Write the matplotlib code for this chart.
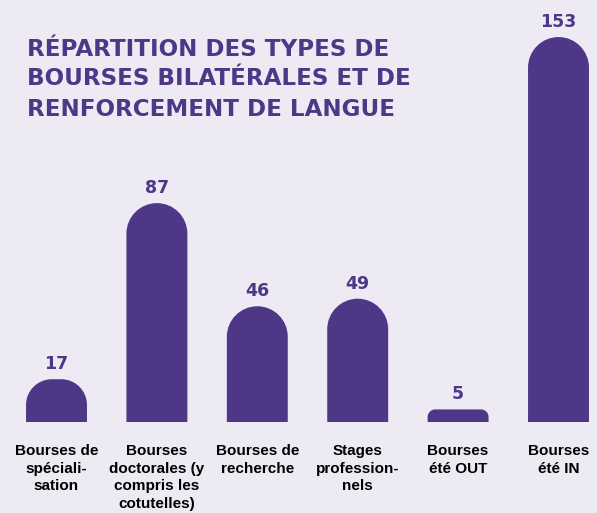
import numpy as np
import matplotlib
matplotlib.use("Agg")
import matplotlib.pyplot as plt
from matplotlib.path import Path
from matplotlib.patches import PathPatch

# data
categories = ["Bourses de\nspéciali-\nsation",
              "Bourses\ndoctorales (y\ncompris les\ncotutelles)",
              "Bourses de\nrecherche",
              "Stages\nprofession-\nnels",
              "Bourses\nété OUT",
              "Bourses\nété IN"]
values = [17, 87, 46, 49, 5, 153]
title_lines = ["RÉPARTITION DES TYPES DE",
               "BOURSES BILATÉRALES ET DE",
               "RENFORCEMENT DE LANGUE"]

bg = "#EDEAF4"
purple = "#4F3787"

W, H, DPI = 597, 513, 100
fig = plt.figure(figsize=(W / DPI, H / DPI), dpi=DPI, facecolor=bg)
ax = fig.add_axes([0, 0, 1, 1])
ax.set_facecolor(bg)
ax.axis("off")

# scales: 100.4 px between bars, 2.516 px per unit, baseline 91 px from bottom
px_x = 100.4
px_y = 2.516
x0_px = 56.5
ax.set_xlim(-x0_px / px_x, (W - x0_px) / px_x)
ax.set_ylim(-91 / px_y, (H - 91) / px_y)

bw = 0.607
k = 0.5523


def rounded_bar(xc, h):
    # rounded top, corner radius in pixels turned into data units
    r_px = min(bw * px_x / 2, 0.6 * h * px_y)
    rx, ry = r_px / px_x, r_px / px_y
    xl, xr = xc - bw / 2, xc + bw / 2
    verts = [(xl, 0), (xl, h - ry),
             (xl, h - ry + k * ry), (xl + rx - k * rx, h), (xl + rx, h),
             (xr - rx, h),
             (xr - rx + k * rx, h), (xr, h - ry + k * ry), (xr, h - ry),
             (xr, 0), (xl, 0)]
    codes = [Path.MOVETO, Path.LINETO,
             Path.CURVE4, Path.CURVE4, Path.CURVE4,
             Path.LINETO,
             Path.CURVE4, Path.CURVE4, Path.CURVE4,
             Path.LINETO, Path.CLOSEPOLY]
    return PathPatch(Path(verts, codes), facecolor=purple, edgecolor="none")


x = np.arange(len(values))
for xi, v, lab in zip(x, values, categories):
    ax.add_patch(rounded_bar(xi, v))
    ax.text(xi, v + 15 / px_y, str(v), ha="center", va="center",
            fontsize=12.5, fontweight="heavy", color=purple, family="DejaVu Sans")
    ax.text(xi, -22 / px_y, lab, ha="center", va="top", fontsize=11,
            fontweight="bold", color="black", family="Liberation Sans",
            linespacing=1.32)

for i, line in enumerate(title_lines):
    fig.text(27 / W, 1 - (49 + 30 * i) / H, line, ha="left", va="center",
             fontsize=16.6, fontweight="heavy", color=purple, family="DejaVu Sans")

fig.savefig("out.png", dpi=DPI, facecolor=bg)
